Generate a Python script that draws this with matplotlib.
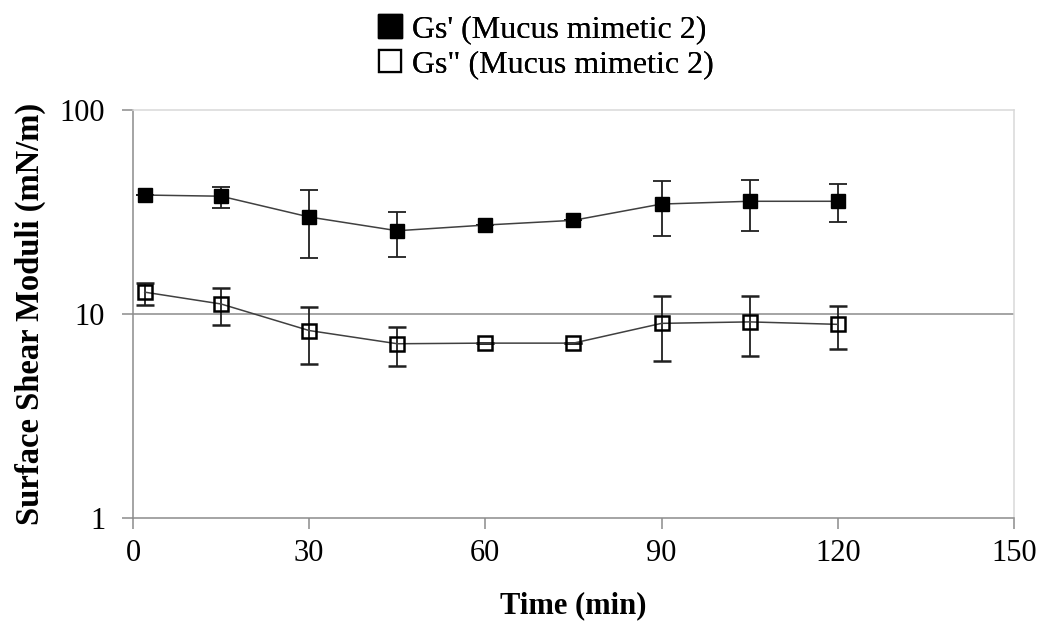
import matplotlib
matplotlib.use("Agg")
import matplotlib.pyplot as plt
from matplotlib.lines import Line2D
from matplotlib.ticker import FixedLocator, NullLocator, FixedFormatter

plt.rcParams["font.family"] = ["Liberation Serif", "DejaVu Serif"]

# Time points (min)
time_min = [2, 15, 30, 45, 60, 75, 90, 105, 120]

# Gs' (storage) surface shear modulus, mN/m, with error bar extents
gs_storage = [38.3, 37.8, 29.9, 25.6, 27.3, 28.8, 34.6, 35.7, 35.7]
gs_storage_hi = [38.3, 42.0, 40.5, 31.7, 27.3, 28.8, 44.9, 45.4, 43.4]
gs_storage_lo = [38.3, 33.0, 18.8, 19.1, 27.3, 28.8, 24.1, 25.5, 28.2]

# Gs'' (loss) surface shear modulus, mN/m, with error bar extents
gs_loss = [12.8, 11.2, 8.3, 7.15, 7.2, 7.2, 9.0, 9.15, 8.9]
gs_loss_hi = [14.2, 13.4, 10.8, 8.65, 7.2, 7.2, 12.2, 12.2, 11.0]
gs_loss_lo = [11.1, 8.8, 5.7, 5.55, 7.2, 7.2, 5.9, 6.2, 6.75]

x_ticks = [0, 30, 60, 90, 120, 150]
y_ticks = [1, 10, 100]
y_tick_labels = ["1", "10", "100"]

labels = ["Gs' (Mucus mimetic 2)", 'Gs" (Mucus mimetic 2)']

fig = plt.figure(figsize=(10.42, 6.23), dpi=100)
ax = fig.add_axes([0.1276, 0.1685, 0.8455, 0.6549])

line_col = "#404040"


def err(vals, hi, lo):
    return [[v - l for v, l in zip(vals, lo)], [h - v for v, h in zip(vals, hi)]]


ax.errorbar(time_min, gs_storage, yerr=err(gs_storage, gs_storage_hi, gs_storage_lo),
            color=line_col, lw=1.1, marker="s", markersize=10,
            markerfacecolor="black", markeredgecolor="black",
            ecolor="#202020", elinewidth=1.3, capsize=6.5, capthick=1.3,
            zorder=3)
ax.errorbar(time_min, gs_loss, yerr=err(gs_loss, gs_loss_hi, gs_loss_lo),
            color=line_col, lw=1.1, marker="s", markersize=10,
            markerfacecolor="none", markeredgecolor="black", markeredgewidth=1.8,
            ecolor="#202020", elinewidth=1.3, capsize=6.5, capthick=1.3,
            zorder=3)

ax.set_yscale("log")
ax.set_xlim(0, 150)
ax.set_ylim(1, 100)
ax.xaxis.set_major_locator(FixedLocator(x_ticks))
ax.yaxis.set_major_locator(FixedLocator(y_ticks))
ax.yaxis.set_major_formatter(FixedFormatter(y_tick_labels))
ax.yaxis.set_minor_locator(NullLocator())

# Horizontal gridline at 10 only
ax.axhline(10, color="#8c8c8c", lw=1.1, zorder=1)

for side in ["left", "bottom"]:
    ax.spines[side].set_color("#8c8c8c")
    ax.spines[side].set_linewidth(1.1)
for side in ["top", "right"]:
    ax.spines[side].set_color("#d9d9d9")
    ax.spines[side].set_linewidth(1.1)

ax.tick_params(axis="both", which="major", direction="out", length=8,
               width=1.1, color="#8c8c8c", labelsize=22, labelcolor="black")
ax.tick_params(axis="y", pad=12)
ax.tick_params(axis="x", pad=7)

ax.set_xlabel("Time (min)", fontsize=22, fontweight="bold", labelpad=17)
ax.set_ylabel("Surface Shear Moduli (mN/m)", fontsize=23.5, fontweight="bold", labelpad=10)

# Legend: one entry per row, square symbols only
handles = [
    Line2D([], [], ls="none", marker="s", markersize=17,
           markerfacecolor="black", markeredgecolor="black"),
    Line2D([], [], ls="none", marker="s", markersize=15.5,
           markerfacecolor="white", markeredgecolor="black", markeredgewidth=1.6),
]
for handle, label, yc in zip(handles, labels, [0.953, 0.897]):
    leg = fig.legend([handle], [label], loc="center left",
                     bbox_to_anchor=(0.359, yc), frameon=False, fontsize=23,
                     handlelength=1.0, handletextpad=0.2, borderpad=0,
                     borderaxespad=0)
    fig.add_artist(leg)

fig.savefig("out.png", dpi=100)
